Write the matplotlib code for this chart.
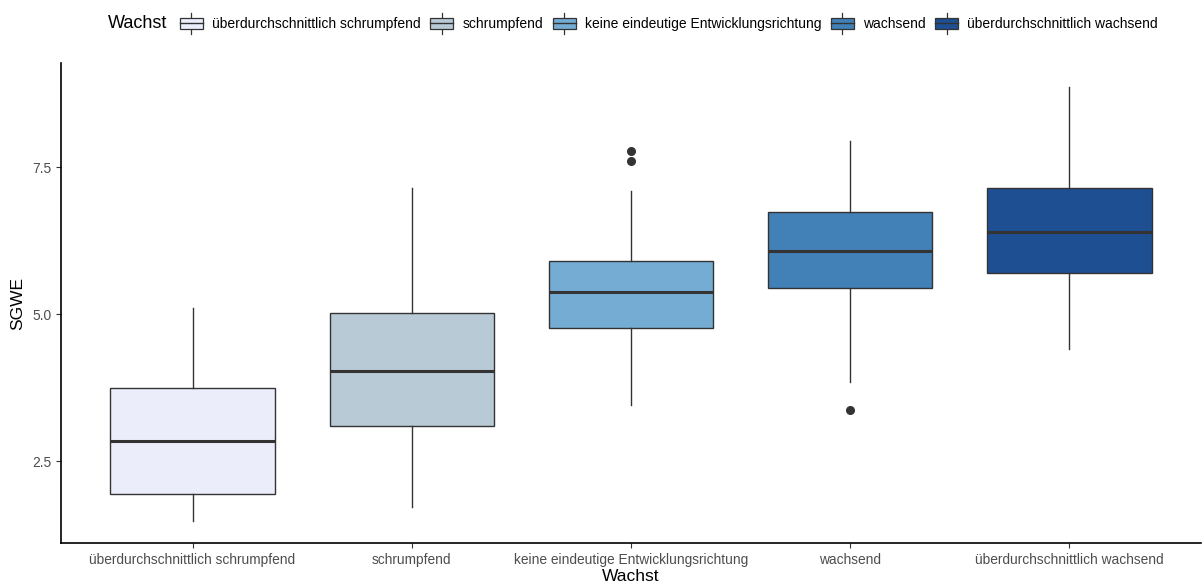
import matplotlib
matplotlib.use("Agg")
import matplotlib.pyplot as plt
from matplotlib.patches import Rectangle
from matplotlib.lines import Line2D
from matplotlib.legend_handler import HandlerBase

plt.rcParams['font.family'] = ['Liberation Sans', 'DejaVu Sans']

# ---- data ----
categories = ['überdurchschnittlich schrumpfend', 'schrumpfend',
              'keine eindeutige Entwicklungsrichtung', 'wachsend',
              'überdurchschnittlich wachsend']
whislo = [1.48, 1.73, 3.45, 3.85, 4.41]
q1 = [1.94, 3.10, 4.77, 5.45, 5.70]
med = [2.84, 4.03, 5.38, 6.08, 6.40]
q3 = [3.74, 5.02, 5.90, 6.73, 7.14]
whishi = [5.11, 7.14, 7.10, 7.95, 8.87]
fliers = [[], [], [7.61, 7.78], [3.37], []]
colors = ['#EBEEFA', '#B8CAD6', '#74ACD4', '#4280B8', '#1F4F93']

EDGE = '#333333'

fig = plt.figure(figsize=(12.03, 5.84), dpi=100)
ax = fig.add_axes([61 / 1203, 1 - 543 / 584, 1140 / 1203, (543 - 63) / 584])

stats = []
for i, c in enumerate(categories):
    stats.append(dict(label=c, whislo=whislo[i], q1=q1[i], med=med[i],
                      q3=q3[i], whishi=whishi[i], fliers=fliers[i]))

bp = ax.bxp(stats, positions=range(1, len(categories) + 1), widths=0.75,
            patch_artist=True, showcaps=False,
            boxprops=dict(edgecolor=EDGE, linewidth=1.0),
            whiskerprops=dict(color=EDGE, linewidth=1.0),
            medianprops=dict(color=EDGE, linewidth=2.2, solid_capstyle='butt'),
            flierprops=dict(marker='o', markerfacecolor=EDGE, markeredgecolor=EDGE,
                            markersize=5.5, linestyle='none'))
for patch, col in zip(bp['boxes'], colors):
    patch.set_facecolor(col)

ax.set_xlim(0.4, 5.6)
ax.set_ylim(1.11, 9.27)
ax.set_yticks([2.5, 5.0, 7.5])
ax.set_yticklabels(['2.5', '5.0', '7.5'])
ax.set_xticks(range(1, len(categories) + 1))
ax.set_xticklabels(categories)
ax.tick_params(axis='both', colors='#333333', labelcolor='#4D4D4D',
               labelsize=9.9, length=3.5, width=0.8)
ax.tick_params(axis='x', pad=4)
for s in ['top', 'right']:
    ax.spines[s].set_visible(False)
for s in ['left', 'bottom']:
    ax.spines[s].set_linewidth(1.2)
    ax.spines[s].set_color('black')

ax.set_xlabel('Wachst', fontsize=12.5, labelpad=1)
ax.set_ylabel('SGWE', fontsize=12.5, labelpad=5)


# ---- legend with small boxplot glyphs ----
class BoxHandler(HandlerBase):
    def create_artists(self, legend, orig_handle, xdescent, ydescent,
                       width, height, fontsize, trans):
        face = orig_handle.get_facecolor()
        x0, y0 = -xdescent, -ydescent
        rect = Rectangle((x0, y0 + height * 0.05), width, height * 0.9,
                         facecolor=face, edgecolor=EDGE, linewidth=0.9,
                         transform=trans)
        mid = Line2D([x0, x0 + width], [y0 + height / 2] * 2, color=EDGE,
                     linewidth=1.0, transform=trans)
        xm = x0 + width / 2
        w1 = Line2D([xm, xm], [y0 - height * 0.35, y0 + height * 0.05],
                    color=EDGE, linewidth=0.9, transform=trans)
        w2 = Line2D([xm, xm], [y0 + height * 0.95, y0 + height * 1.35],
                    color=EDGE, linewidth=0.9, transform=trans)
        return [w1, w2, rect, mid]


handles = [Rectangle((0, 0), 1, 1, facecolor=c) for c in colors]
fig.text(108 / 1203, 1 - 24 / 584, 'Wachst', fontsize=13, va='center',
         ha='left', color='black')
fig.legend(handles, categories, handler_map={Rectangle: BoxHandler()},
           loc='center left', bbox_to_anchor=(180 / 1203, 1 - 24 / 584),
           ncol=5, frameon=False, fontsize=10, handlelength=1.65,
           handleheight=1.0, handletextpad=0.65, columnspacing=0.7,
           borderpad=0, borderaxespad=0)

fig.savefig('out.png', dpi=100)
